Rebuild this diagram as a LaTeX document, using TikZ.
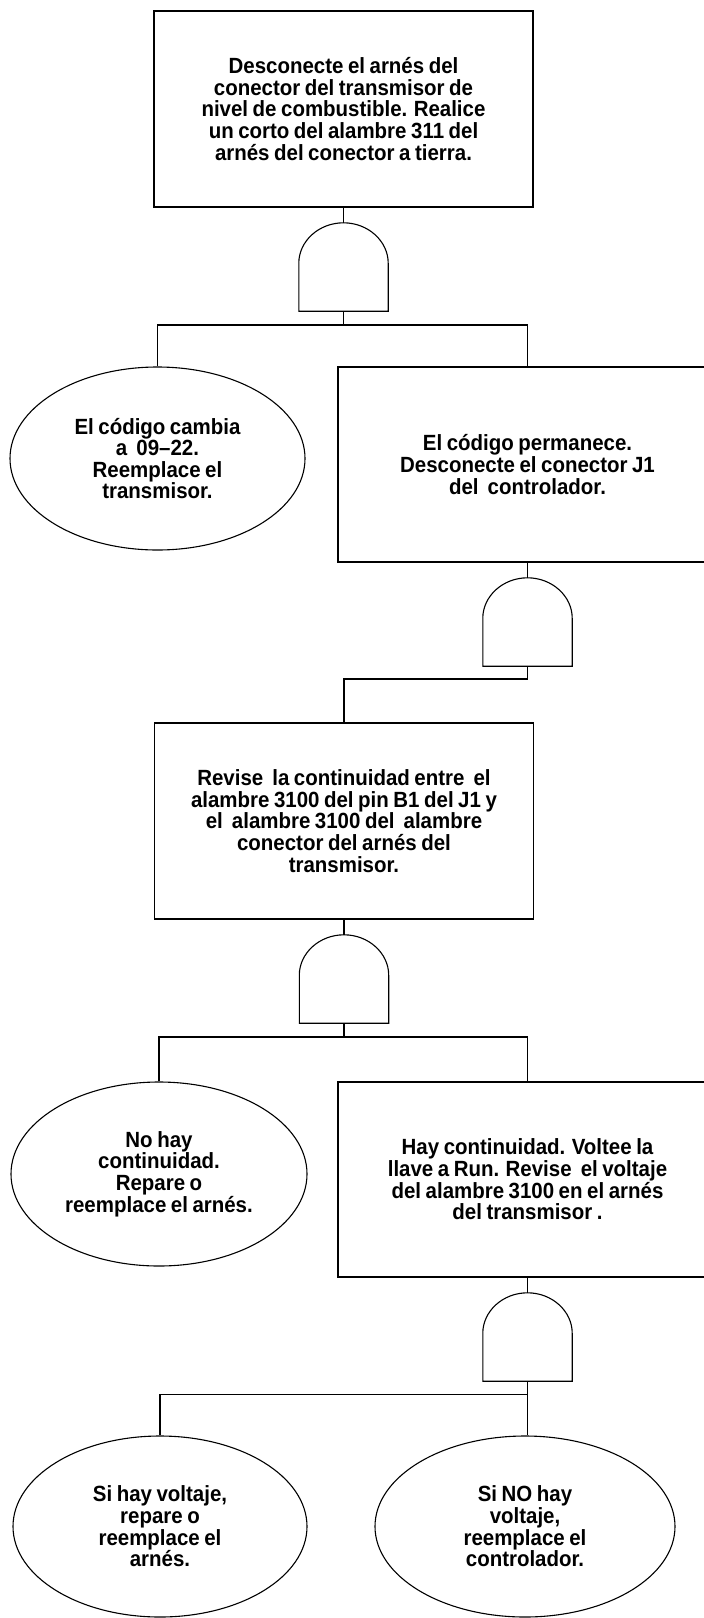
\documentclass[tikz,border=0pt]{standalone}
\usepackage{fontspec}
\setsansfont{Liberation Sans}[FakeStretch=0.93, WordSpace=0.8]
\usetikzlibrary{shapes.geometric,calc}
\tikzset{
  ln/.style={line width=1.1pt, black},
  txt/.style={font=\sffamily\bfseries\fontsize{22}{21.6}\selectfont, align=center, inner sep=0pt},
  boxnode/.style={txt, ln, draw, rectangle, minimum width=379pt, minimum height=196pt},
  ellnode/.style={txt, ln, draw, ellipse, inner sep=0pt},
  gatebox/.style={rectangle, minimum width=89pt, minimum height=88pt, inner sep=0pt}
}
\newcommand\mygate[3]{%
  \node[gatebox] (#1) at (#2,#3+44) {};
  \draw[ln] (#1.south west) -- ($(#1.south west)+(0,-48)$)
    .. controls ($(#1.south west)+(0,-70.1)$) and ($(#1.north)+(-24.6,0)$) .. (#1.north)
    .. controls ($(#1.north)+(24.6,0)$) and ($(#1.south east)+(0,-70.1)$) .. ($(#1.south east)+(0,-48)$)
    -- (#1.south east) -- cycle;
}
\begin{document}
\begin{tikzpicture}[x=1pt,y=-1pt]
\useasboundingbox (0,0) rectangle (704,1618);
\fill[white] (0,0) rectangle (704,1618);
\clip (0,0) rectangle (704,1618);

% level 1
\node[boxnode] (b1) at (343.5,109) {Desconecte el arnés del\\conector del transmisor de\\nivel de combustible. Realice\\un corto del alambre 311 del\\arnés del conector a tierra.};
\mygate{g1}{343.5}{223}
\draw[ln] (b1.south) -- (g1.north);
\coordinate (j1) at (343.5,325);
\draw[ln] (g1.south) -- (j1);

% level 2
\node[ellnode, minimum width=295pt, minimum height=183pt] (e1) at (157.5,458.5) {El código cambia\\a\ \ 09–22.\\Reemplace el\\transmisor.};
\node[boxnode, minimum height=195pt] (b2) at (527.5,464.5) {El código permanece.\\Desconecte el conector J1\\del\ \ controlador.};
\draw[ln] (e1.north) |- (j1) -| (b2.north);

\mygate{g2}{527.5}{578}
\draw[ln] (b2.south) -- (g2.north);
\coordinate (j2) at (344,679);
\node[boxnode] (b3) at (344,821) {Revise\ \ la continuidad entre\ \ el\\alambre 3100 del pin B1 del J1 y\\el\ \ alambre 3100 del\ \ alambre\\conector del arnés del\\transmisor.};
\draw[ln] (g2.south) |- (j2) -- (b3.north);

% level 3
\mygate{g3}{344}{935}
\draw[ln] (b3.south) -- (g3.north);
\coordinate (j3) at (344,1037);
\draw[ln] (g3.south) -- (j3);
\node[ellnode, minimum width=296pt, minimum height=184pt] (e2) at (159,1174) {No hay\\continuidad.\\Repare o\\reemplace el arnés.};
\node[boxnode, minimum height=195pt] (b4) at (527.5,1179.5) {Hay continuidad. Voltee la\\llave a Run. Revise\ \ el voltaje\\del alambre 3100 en el arnés\\del transmisor .};
\draw[ln] (e2.north) |- (j3) -| (b4.north);

% level 4
\mygate{g4}{527.5}{1293}
\draw[ln] (b4.south) -- (g4.north);
\coordinate (j4) at (527.5,1394.5);
\node[ellnode, minimum width=294pt, minimum height=181pt] (e3) at (160,1526.5) {Si hay voltaje,\\repare o\\reemplace el\\arnés.};
\node[ellnode, minimum width=300pt, minimum height=181pt] (e4) at (525,1526.5) {Si NO hay\\voltaje,\\reemplace el\\controlador.};
\draw[ln] (g4.south) -- (j4) -- (j4 |- e4.north);
\draw[ln] (e3.north) |- (j4);
\end{tikzpicture}
\end{document}
